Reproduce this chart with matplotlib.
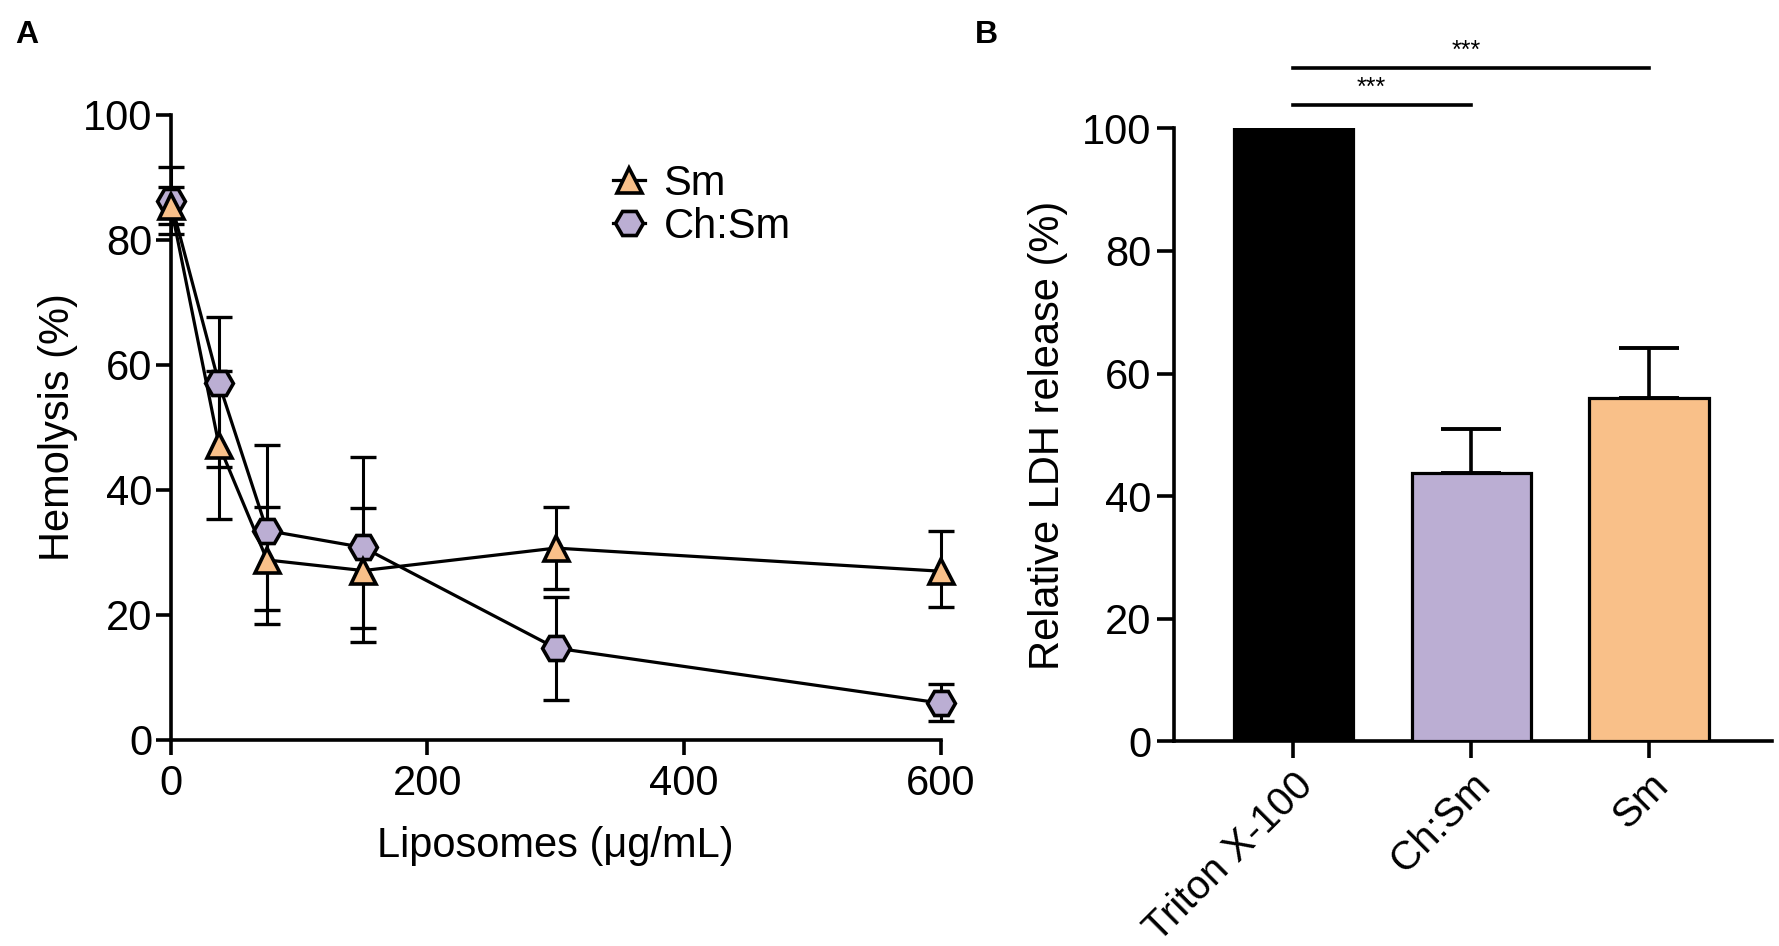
import numpy as np
import matplotlib
matplotlib.use("Agg")
import matplotlib.pyplot as plt

plt.rcParams['font.family'] = ['Liberation Sans', 'DejaVu Sans']

# panel A - hemolysis vs liposome dose
dose = [0, 37.5, 75, 150, 300, 600]
sm_mean = [85.5, 47.2, 28.8, 27.1, 30.7, 27.0]
sm_err_lo = [3.0, 11.8, 8.0, 9.2, 6.6, 5.8]
sm_err_hi = [3.0, 11.8, 8.4, 10.0, 6.6, 6.5]
chsm_mean = [86.2, 57.1, 33.5, 30.8, 14.7, 5.9]
chsm_err_lo = [5.2, 13.4, 14.9, 15.2, 8.3, 2.8]
chsm_err_hi = [5.4, 10.5, 13.7, 14.5, 8.2, 3.1]

# panel B - LDH release
groups = ['Triton X-100', 'Ch:Sm', 'Sm']
ldh_mean = [100, 43.8, 56.0]
ldh_err = [0, 7.1, 8.2]
sig_pairs = [(0, 1), (0, 2)]
sig_text = ['***', '***']

orange = '#F9C089'
purple = '#BBAED3'

fig = plt.figure(figsize=(17.79, 9.46), dpi=100)


def style_axes(ax, ticklen):
    for s in ['top', 'right']:
        ax.spines[s].set_visible(False)
    for s in ['left', 'bottom']:
        ax.spines[s].set_linewidth(2.6)
    ax.tick_params(width=2.6, length=ticklen, labelsize=30, direction='out')


# ---- panel A
ax_a = fig.add_axes([0.0960, 0.2178, 0.4327, 0.6607])
style_axes(ax_a, 10.5)
series = [
    (chsm_mean, chsm_err_lo, chsm_err_hi, 'H', 20, purple, 'Ch:Sm', 3),
    (sm_mean, sm_err_lo, sm_err_hi, '^', 18, orange, 'Sm', 4),
]
handles = {}
for mean, lo, hi, mk, ms, col, lab, z in series:
    eb = ax_a.errorbar(dose, mean, yerr=[lo, hi], fmt='none', ecolor='black',
                       elinewidth=2.2, capsize=9.5, capthick=2.4, zorder=2)
    for art in eb.lines[1] + eb.lines[2]:
        art.set_clip_on(False)
    ln, = ax_a.plot(dose, mean, '-', color='black', lw=2.3, marker=mk, ms=ms,
                    mfc=col, mec='black', mew=2.6, zorder=z, clip_on=False, label=lab)
    handles[lab] = ln

ax_a.set_xlim(0, 600)
ax_a.set_ylim(0, 100)
ax_a.set_xticks([0, 200, 400, 600])
ax_a.set_yticks([0, 20, 40, 60, 80, 100])
ax_a.tick_params(axis='x', pad=7)
ax_a.tick_params(axis='y', pad=3)
ax_a.set_xlabel('Liposomes (μg/mL)', fontsize=30, labelpad=16)
ax_a.set_ylabel('Hemolysis (%)', fontsize=30, labelpad=3)
ax_a.legend([handles['Sm'], handles['Ch:Sm']], ['Sm', 'Ch:Sm'], loc='upper left',
            bbox_to_anchor=(0.575, 0.922), frameon=False, fontsize=30,
            handlelength=0.75, handletextpad=0.45, labelspacing=0.08, borderpad=0,
            borderaxespad=0)

# ---- panel B
ax_b = fig.add_axes([0.6599, 0.2162, 0.3361, 0.6482])
style_axes(ax_b, 12.5)
xpos = np.arange(len(groups))
ax_b.errorbar(xpos, ldh_mean, yerr=[np.zeros(len(groups)), ldh_err], fmt='none',
              ecolor='black', elinewidth=2.6, capsize=21.5, capthick=2.8, zorder=2)
ax_b.bar(xpos, ldh_mean, width=0.67, color=['black', purple, orange],
         edgecolor='black', linewidth=2.3, zorder=3)
ax_b.set_xlim(-0.67, 2.69)
ax_b.set_ylim(0, 100)
ax_b.set_yticks([0, 20, 40, 60, 80, 100])
ax_b.set_xticks(xpos)
ax_b.set_xticklabels(groups, rotation=45, ha='right', rotation_mode='anchor', fontsize=29)
ax_b.tick_params(axis='x', pad=5)
ax_b.tick_params(axis='y', pad=4)
ax_b.set_ylabel('Relative LDH release (%)', fontsize=30, labelpad=10)

sig_y = [103.8, 109.8]
for (i, j), txt, y in zip(sig_pairs, sig_text, sig_y):
    ax_b.plot([xpos[i], xpos[j]], [y, y], color='black', lw=2.6, clip_on=False)
    ax_b.text((xpos[i] + xpos[j]) / 2 - (0.06 if j == 1 else 0.03), y + 2.8, txt,
              ha='center', va='center', fontsize=18)

fig.text(15 / 1779, 1 - 43 / 946, 'A', fontsize=23, fontweight='bold', va='baseline')
fig.text(975 / 1779, 1 - 43 / 946, 'B', fontsize=23, fontweight='bold', va='baseline')

fig.savefig('out.png', dpi=100)
